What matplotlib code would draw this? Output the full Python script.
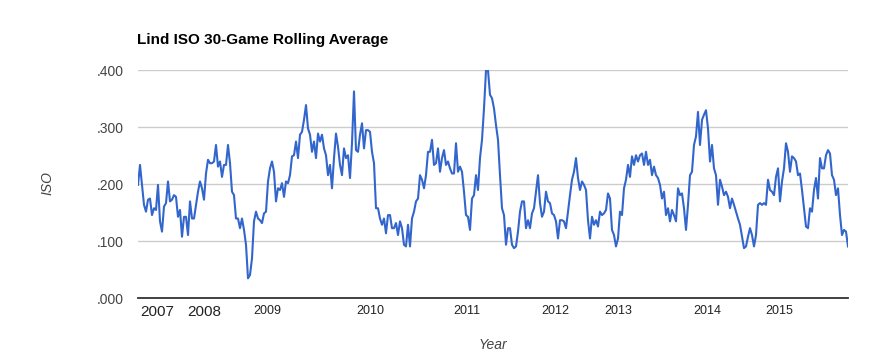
import matplotlib
matplotlib.use("Agg")
import matplotlib.pyplot as plt

plt.rcParams['font.family'] = ['Liberation Sans', 'DejaVu Sans']

# rolling 30-game ISO (one value per ~3 games)
iso_2007_08 = [
    .199, .234, .199, .164, .152, .173, .175, .146, .158, .155, .199, .135,
    .117, .161, .167, .205, .170, .173, .181, .178, .143, .155, .108, .143,
    .143, .111, .170, .140, .140, .164, .187, .205, .193, .173, .219, .243,
    .237, .237, .240, .269, .231, .240, .213, .234, .234, .269, .237, .187,
    .181, .140, .140, .123, .140, .120, .094, .035, .041, .070, .135, .152,
    .140, .137, .132, .149, .152, .205, .228, .240, .222, .170, .193, .190,
]
iso_2009_10 = [
    .202, .178, .205, .202, .216, .249, .251, .275, .246, .287, .292, .313,
    .339, .298, .287, .257, .275, .246, .289, .275, .287, .263, .251, .216,
    .234, .193, .246, .289, .266, .234, .216, .263, .246, .251, .211, .272,
    .363, .260, .257, .287, .307, .263, .295, .295, .292, .257, .237, .158,
    .158, .140, .129, .140, .114, .146, .146, .123, .123, .132, .111, .135,
    .123, .094, .091, .129, .091, .140, .152, .170, .175, .216, .208,
]
iso_2011_12 = [
    .193, .216, .257, .257, .278, .234, .237, .263, .222, .246, .260, .234,
    .240, .228, .219, .219, .272, .222, .231, .222, .187, .146, .143, .120,
    .175, .181, .216, .190, .246, .278, .333, .400, .400, .357, .351, .333,
    .304, .278, .216, .158, .146, .094, .123, .123, .094, .088, .091, .117,
    .152, .170, .170, .123, .137, .123, .149, .158, .187, .216, .167, .143,
    .152, .187, .170, .167, .149, .146, .135, .105, .137, .137, .135,
]
iso_2012_14 = [
    .123, .152, .181, .208, .222, .246, .211, .190, .205, .199, .190, .137,
    .105, .143, .129, .137, .126, .152, .146, .149, .155, .184, .175, .120,
    .111, .091, .105, .152, .146, .193, .208, .234, .213, .249, .234, .251,
    .240, .251, .254, .234, .257, .234, .243, .216, .231, .216, .211, .199,
    .175, .187, .146, .158, .135, .155, .146, .135, .193, .181, .184, .158,
    .120, .164, .216, .222, .269, .284, .327, .269, .313, .322, .330,
]
iso_2014_15 = [
    .298, .240, .269, .228, .216, .164, .208, .196, .181, .187, .178, .158,
    .175, .164, .152, .140, .129, .108, .088, .091, .108, .123, .111, .091,
    .111, .164, .167, .164, .167, .164, .208, .190, .187, .181, .213, .228,
    .170, .205, .228, .272, .257, .222, .249, .246, .240, .216, .219, .190,
    .158, .126, .123, .158, .152, .190, .211, .175, .246, .228, .228, .251,
    .260, .254, .216, .208, .181, .193, .146, .111, .120, .117, .091,
]
iso = iso_2007_08 + iso_2009_10 + iso_2011_12 + iso_2012_14 + iso_2014_15
games = list(range(len(iso)))

years = ['2007', '2008', '2009', '2010', '2011', '2012', '2013', '2014', '2015']
year_start = [9.5, 33.3, 64.5, 116.3, 164.3, 208.5, 240.2, 284.5, 320.7]
y_ticks = [0.0, 0.1, 0.2, 0.3, 0.4]
y_labels = ['.000', '.100', '.200', '.300', '.400']

fig = plt.figure(figsize=(8.84, 3.64), dpi=100)
ax = fig.add_axes([138 / 884, 1 - 298.3 / 364, 710 / 884, 228 / 364])

ax.plot(games, iso, color='#3366cc', linewidth=1.5, solid_joinstyle='round')

ax.set_xlim(0, len(iso) - 1)
ax.set_ylim(0, 0.4)
ax.set_yticks(y_ticks, y_labels)
ax.set_xticks(year_start, years)
ax.grid(axis='y', color='#cccccc', linewidth=1)
ax.set_axisbelow(True)
ax.tick_params(axis='y', length=0, pad=10, labelsize=10, labelcolor='#444444')
ax.tick_params(axis='x', length=0, pad=5, labelcolor='#222222')
for lab in ax.get_xticklabels():
    lab.set_fontsize(11 if lab.get_text() in ('2007', '2008') else 9)

for s in ['top', 'right', 'left']:
    ax.spines[s].set_visible(False)
ax.spines['bottom'].set_color('#333333')
ax.spines['bottom'].set_linewidth(1.3)
ax.spines['bottom'].set_zorder(3)

fig.text(137 / 884, 1 - 40 / 364, 'Lind ISO 30-Game Rolling Average', fontsize=11,
         fontweight='bold', color='#000000', va='center', ha='left')
fig.text(47 / 884, 1 - 183 / 364, 'ISO', fontsize=10, style='italic', color='#444444',
         rotation=90, va='center', ha='center')
fig.text(493 / 884, 1 - 345 / 364, 'Year', fontsize=10, style='italic', color='#444444',
         va='center', ha='center')

fig.savefig('out.png', dpi=100)
